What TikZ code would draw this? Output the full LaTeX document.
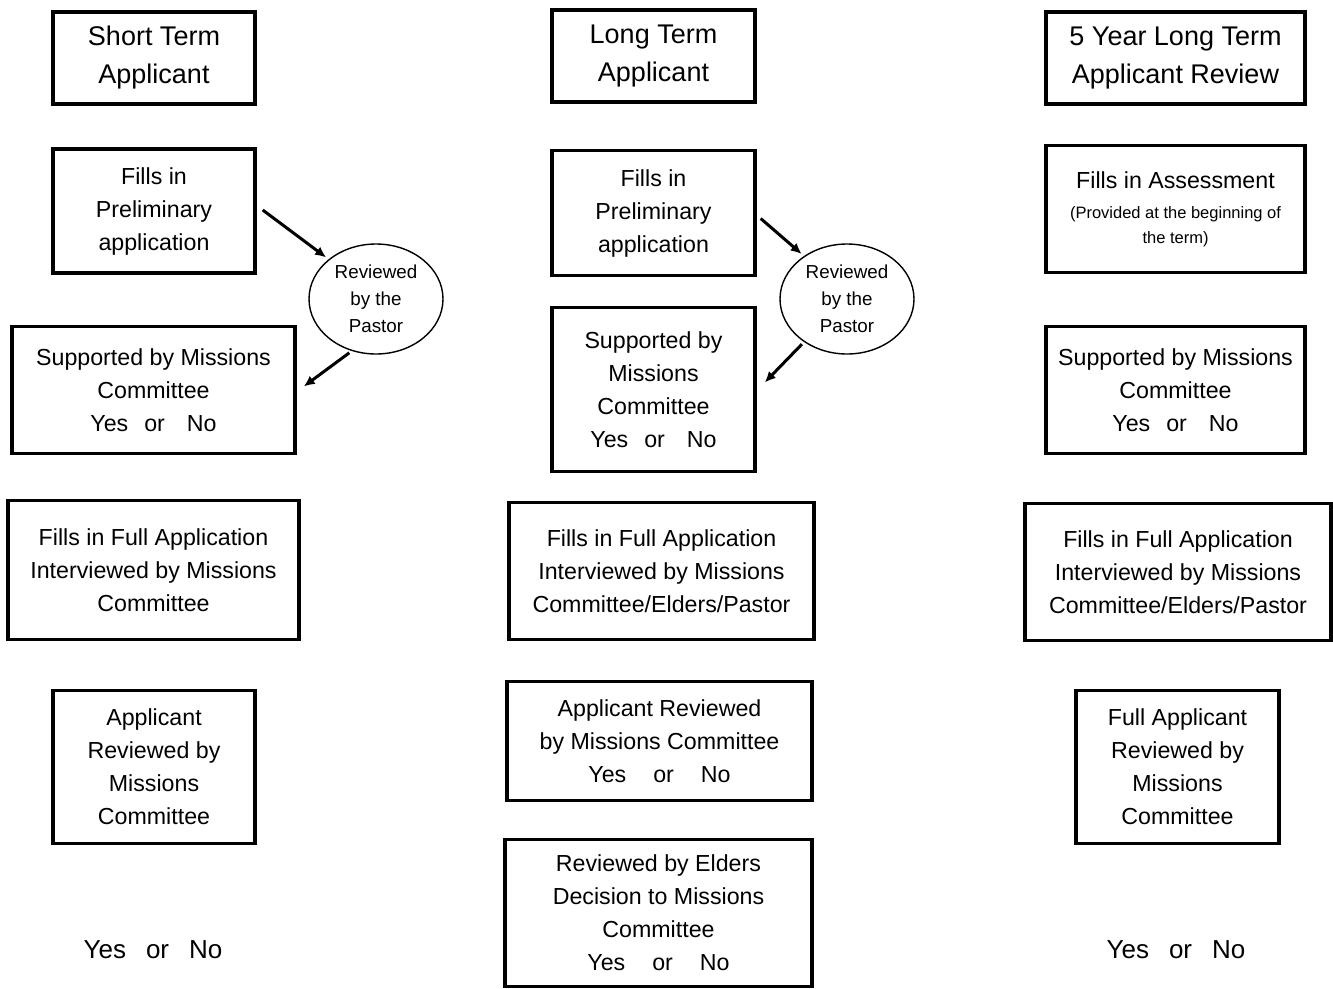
\documentclass[tikz,border=0pt]{standalone}
\usepackage{fontspec}
\setmainfont{Liberation Sans}
\usetikzlibrary{arrows.meta,shapes.geometric}
\newcommand{\fsA}{\fontsize{27}{38}\selectfont}
\newcommand{\fsB}{\fontsize{23.2}{33}\selectfont}
\newcommand{\fsC}{\fontsize{16.5}{25}\selectfont}
\newcommand{\fsD}{\fontsize{18.8}{27}\selectfont}
\newcommand{\fsE}{\fontsize{26}{38}\selectfont}
\begin{document}
\begin{tikzpicture}[x=1pt,y=-1pt,
  box/.style={draw, line width=3.4pt, align=center, inner sep=0pt},
  oval/.style={draw, ellipse, line width=1.4pt, inner sep=0pt, align=center, font=\fsD},
  arr/.style={line width=3pt, -{Latex[length=11pt,width=10pt]}}]
\useasboundingbox (0,0) rectangle (1333,988);
% column 1
\node[box, minimum width=202pt, minimum height=92pt, font=\fsA] (a1) at (154,58) {Short Term\\Applicant};
\node[box, minimum width=202pt, minimum height=124pt, font=\fsB] (a2) at (154,211) {Fills in\\Preliminary\\application};
\node[oval, minimum width=134pt, minimum height=110pt] (ae) at (376,299) {Reviewed\\by the\\Pastor};
\node[box, minimum width=283pt, minimum height=127pt, font=\fsB] (a3) at (153.5,390) {Supported by Missions\\Committee\\Yes\hspace{16pt}or\hspace{22pt}No};
\node[box, minimum width=291pt, minimum height=139pt, font=\fsB] (a4) at (153.5,570) {Fills in Full Application\\Interviewed by Missions\\Committee};
\node[box, minimum width=202pt, minimum height=153pt, font=\fsB] (a5) at (154,767) {Applicant\\Reviewed by\\Missions\\Committee};
\node[font=\fsE] (a6) at (153,950) {Yes\hspace{20pt}or\hspace{20pt}No};
\draw[arr, shorten >=3pt] ([xshift=6pt,yshift=1pt]a2.east) -- (ae.140);
\draw[arr, shorten <=3pt] (ae.245) -- ([xshift=7pt,yshift=3.5pt]a3.east);
% column 2
\node[box, minimum width=203pt, minimum height=92pt, font=\fsA] (b1) at (653.5,56) {Long Term\\Applicant};
\node[box, minimum width=203pt, minimum height=125pt, font=\fsB] (b2) at (653.5,213) {Fills in\\Preliminary\\application};
\node[oval, minimum width=134pt, minimum height=110pt] (be) at (847,299) {Reviewed\\by the\\Pastor};
\node[box, minimum width=203pt, minimum height=164pt, font=\fsB] (b3) at (653.5,389.5) {Supported by\\Missions\\Committee\\Yes\hspace{16pt}or\hspace{22pt}No};
\node[box, minimum width=305pt, minimum height=137pt, font=\fsB] (b4) at (661.5,571) {Fills in Full Application\\Interviewed by Missions\\Committee/Elders/Pastor};
\node[box, minimum width=305pt, minimum height=119pt, font=\fsB] (b5) at (659.5,741) {Applicant Reviewed\\by Missions Committee\\Yes\hspace{27pt}or\hspace{27pt}No};
\node[box, minimum width=307pt, minimum height=147pt, font=\fsB] (b6) at (658.5,913) {Reviewed by Elders\\Decision to Missions\\Committee\\Yes\hspace{27pt}or\hspace{27pt}No};
\draw[arr, shorten >=3pt] ([xshift=4pt,yshift=-5.5pt]b2.east) -- (be.135);
\draw[arr, shorten <=3pt] (be.225) -- ([xshift=8pt,yshift=7pt]b3.east);
% column 3
\node[box, minimum width=259pt, minimum height=92pt, font=\fsA] (c1) at (1175.5,58) {5 Year Long Term\\Applicant Review};
\node[box, minimum width=259pt, minimum height=127pt, font=\fsC] (c2) at (1175.5,209) {{\fsB Fills in Assessment}\\[5pt](Provided at the beginning of\\the term)};
\node[box, minimum width=259pt, minimum height=127pt, font=\fsB] (c3) at (1175.5,390) {Supported by Missions\\Committee\\Yes\hspace{16pt}or\hspace{22pt}No};
\node[box, minimum width=306pt, minimum height=137pt, font=\fsB] (c4) at (1178,572) {Fills in Full Application\\Interviewed by Missions\\Committee/Elders/Pastor};
\node[box, minimum width=203pt, minimum height=153pt, font=\fsB] (c5) at (1177.5,767) {Full Applicant\\Reviewed by\\Missions\\Committee};
\node[font=\fsE] (c6) at (1176,950) {Yes\hspace{20pt}or\hspace{20pt}No};
\end{tikzpicture}
\end{document}
